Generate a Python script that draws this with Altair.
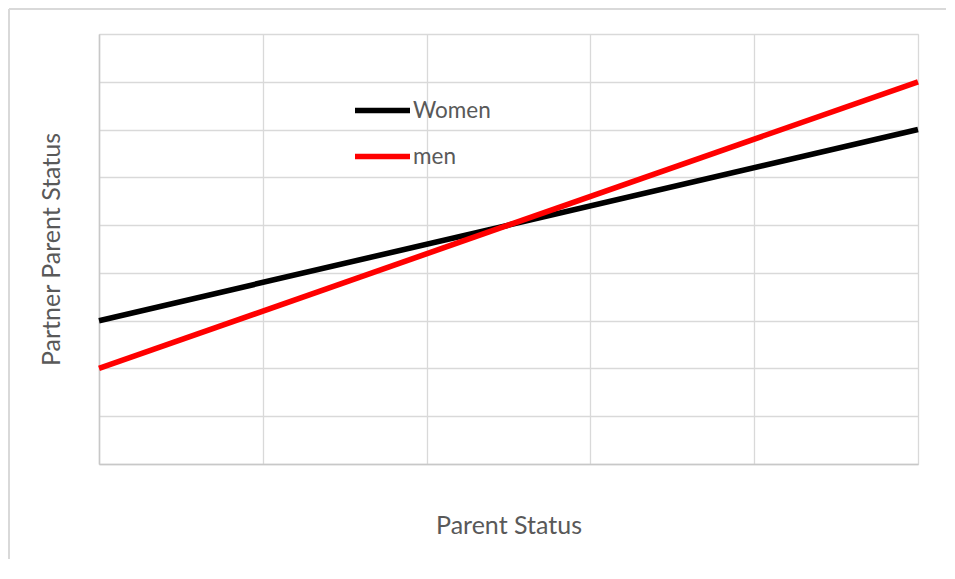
import altair as alt
import pandas as pd

x_vals = [0, 5]
women = [3, 7]
men = [2, 8]
series_names = ["Women", "men"]
series_colors = ["#000000", "#ff0000"]

rows = []
for x, w, m in zip(x_vals, women, men):
    rows.append({"x": x, "y": w, "series": "Women"})
    rows.append({"x": x, "y": m, "series": "men"})
df = pd.DataFrame(rows)

W, H = 819, 430
PL, PT, PR, PB = 91, 26, 28, 95
FONT = "Lato"
GREY = "#595959"

lines = alt.Chart(df).mark_line(strokeWidth=5.6, strokeCap="butt").encode(
    x=alt.X("x:Q", scale=alt.Scale(domain=[0, 5], nice=False),
            axis=alt.Axis(values=[0, 1, 2, 3, 4, 5], labels=False, ticks=False,
                          title="Parent Status", titleFont=FONT, titleFontSize=25,
                          titleFontWeight="normal", titleColor=GREY, titlePadding=49,
                          gridColor="#d9d9d9", gridWidth=1.3,
                          domainColor="#c8c8c8", domainWidth=1.5)),
    y=alt.Y("y:Q", scale=alt.Scale(domain=[0, 9], nice=False),
            axis=alt.Axis(values=list(range(10)), labels=False, ticks=False,
                          title="Partner Parent Status", titleFont=FONT, titleFontSize=25,
                          titleFontWeight="normal", titleColor=GREY, titlePadding=35,
                          gridColor="#d9d9d9", gridWidth=1.3,
                          domainColor="#c8c8c8", domainWidth=1.5)),
    color=alt.Color("series:N",
                    scale=alt.Scale(domain=series_names, range=series_colors),
                    legend=alt.Legend(title=None, orient="none", legendX=253, legendY=46,
                                      symbolType="stroke", symbolSize=3025,
                                      symbolStrokeWidth=5.6, labelFont=FONT,
                                      labelFontSize=22.5, labelColor=GREY,
                                      labelOffset=0, rowPadding=4, padding=0)),
)

border_v = alt.Chart(pd.DataFrame({"a": [0]})).mark_rule(color="#d9d9d9", strokeWidth=2).encode(
    x=alt.value(-90), y=alt.value(-25), y2=alt.value(H + PB)
)
border_h = alt.Chart(pd.DataFrame({"a": [0]})).mark_rule(color="#d9d9d9", strokeWidth=2).encode(
    y=alt.value(-25), x=alt.value(-90), x2=alt.value(W + PR)
)

chart = alt.layer(border_v, border_h, lines).properties(
    width=W, height=H,
    autosize=alt.AutoSizeParams(type="none"),
    padding={"left": PL, "top": PT, "right": PR, "bottom": PB},
).configure_view(stroke=None).configure(background="white")

chart.save("out.html", embed_options={"renderer": "svg", "actions": False})
